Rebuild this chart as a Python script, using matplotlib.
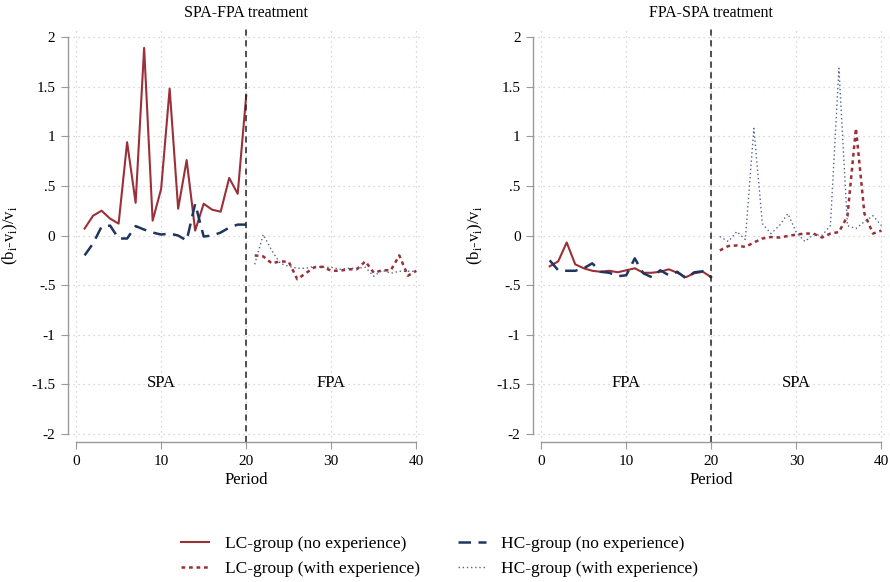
import numpy as np
import matplotlib
matplotlib.use('Agg')
import matplotlib.pyplot as plt

plt.rcParams['font.family'] = ['Liberation Serif', 'DejaVu Serif']
plt.rcParams['mathtext.fontset'] = 'custom'
plt.rcParams['mathtext.rm'] = 'Liberation Serif'

# Periods
periods_first = np.arange(1, 21)
periods_second = np.arange(21, 41)

# SPA-FPA treatment (periods 1-20 SPA, 21-40 FPA)
left_lc_noexp = [0.07, 0.2, 0.25, 0.17, 0.12, 0.94, 0.33, 1.89, 0.15, 0.47,
                 1.48, 0.27, 0.76, 0.05, 0.32, 0.26, 0.24, 0.58, 0.42, 1.41]
left_hc_noexp = [-0.2, -0.08, 0.09, 0.1, -0.03, -0.03, 0.095, 0.06, 0.03, 0.01,
                 0.02, 0.0, -0.05, 0.32, -0.01, 0.0, 0.03, 0.08, 0.11, 0.11]
left_lc_exp = [-0.2, -0.21, -0.28, -0.26, -0.265, -0.44, -0.38, -0.32, -0.315, -0.355,
               -0.355, -0.34, -0.34, -0.26, -0.375, -0.35, -0.35, -0.2, -0.405, -0.355]
left_hc_exp = [-0.29, 0.01, -0.15, -0.28, -0.31, -0.33, -0.33, -0.31, -0.32, -0.32,
               -0.34, -0.33, -0.33, -0.32, -0.41, -0.35, -0.38, -0.36, -0.36, -0.36]

# FPA-SPA treatment (periods 1-20 FPA, 21-40 SPA)
right_lc_noexp = [-0.31, -0.26, -0.07, -0.29, -0.33, -0.355, -0.365, -0.355, -0.37, -0.35,
                  -0.33, -0.375, -0.375, -0.365, -0.34, -0.375, -0.42, -0.38, -0.365, -0.42]
right_hc_noexp = [-0.25, -0.35, -0.355, -0.355, -0.33, -0.28, -0.365, -0.375, -0.41, -0.4,
                  -0.23, -0.38, -0.42, -0.35, -0.4, -0.365, -0.43, -0.37, -0.36, -0.42]
right_lc_exp = [-0.15, -0.106, -0.1, -0.115, -0.07, -0.03, -0.015, -0.02, -0.005, 0.01,
                0.02, 0.02, -0.02, 0.02, 0.035, 0.195, 1.08, 0.22, 0.02, 0.05]
right_hc_exp = [-0.01, -0.06, 0.04, -0.04, 1.08, 0.12, 0.02, 0.1, 0.22, 0.03,
                -0.06, 0.01, 0.0, 0.1, 1.685, 0.1, 0.07, 0.14, 0.2, 0.1]

titles = ['SPA-FPA treatment', 'FPA-SPA treatment']
phase_labels = [('SPA', 'FPA'), ('FPA', 'SPA')]
yticks = [2, 1.5, 1, 0.5, 0, -0.5, -1, -1.5, -2]
ytick_labels = ['2', '1.5', '1', '.5', '0', '-.5', '-1', '-1.5', '-2']
xticks = [0, 10, 20, 30, 40]

red = '#9a3038'
navy = '#1f3560'
dotblue = '#55648a'
spine_col = '#9a9a9a'

fig = plt.figure(figsize=(8.9, 5.82), dpi=100)
ax1 = fig.add_axes([0.0764, 0.2405, 0.40, 0.7096])
ax2 = fig.add_axes([0.599, 0.2405, 0.40, 0.7096])

data = [(left_lc_noexp, left_hc_noexp, left_lc_exp, left_hc_exp),
        (right_lc_noexp, right_hc_noexp, right_lc_exp, right_hc_exp)]

handles = None
for ax, title, phases, series in zip([ax1, ax2], titles, phase_labels, data):
    lc_no, hc_no, lc_ex, hc_ex = series
    h1, = ax.plot(periods_first, lc_no, color=red, lw=1.5, label='LC-group (no experience)')
    h2, = ax.plot(periods_first, hc_no, color=navy, lw=1.8, ls=(0, (5, 3)),
                  label='HC-group (no experience)')
    h3, = ax.plot(periods_second, lc_ex, color=red, lw=1.8, ls=(0, (1.5, 1.5)),
                  label='LC-group (with experience)')
    h4, = ax.plot(periods_second, hc_ex, color=dotblue, lw=1.0, ls=(0, (1, 2)),
                  label='HC-group (with experience)')
    handles = [h1, h3, h2, h4]

    ax.axvline(20, color='#222222', lw=1.1, ls=(0, (4, 3)))
    ax.set_xlim(-0.95, 40.9)
    ax.set_ylim(-2.08, 2.08)
    ax.set_yticks(yticks)
    ax.set_yticklabels(ytick_labels)
    ax.set_xticks(xticks)
    ax.grid(True, color='#cccccc', ls=(0, (1, 3)), lw=0.9)
    ax.set_axisbelow(True)
    for s in ['top', 'right']:
        ax.spines[s].set_visible(False)
    ax.spines['left'].set_bounds(-2, 2)
    ax.spines['bottom'].set_bounds(0, 40)
    for s in ['left', 'bottom']:
        ax.spines[s].set_color(spine_col)
        ax.spines[s].set_linewidth(1.0)
    ax.tick_params(axis='both', direction='out', length=5, color=spine_col,
                   labelsize=11, pad=4)
    ax.set_title(title, fontsize=11.5, pad=9)
    ax.set_xlabel('Period', fontsize=12, labelpad=3)
    ax.set_ylabel(r'(b$_\mathregular{i}$-v$_\mathregular{i}$)/v$_\mathregular{i}$',
                  fontsize=12, labelpad=8)
    ax.text(10, -1.49, phases[0], ha='center', va='center', fontsize=12)
    ax.text(30, -1.49, phases[1], ha='center', va='center', fontsize=12)

fig.legend(handles=handles, labels=[h.get_label() for h in handles], ncol=2,
           loc='center', bbox_to_anchor=(0.494, 0.044), frameon=False,
           fontsize=12.5, handlelength=1.6, columnspacing=2.2, labelspacing=0.55,
           handletextpad=0.9)

fig.savefig('out.png', dpi=100)
